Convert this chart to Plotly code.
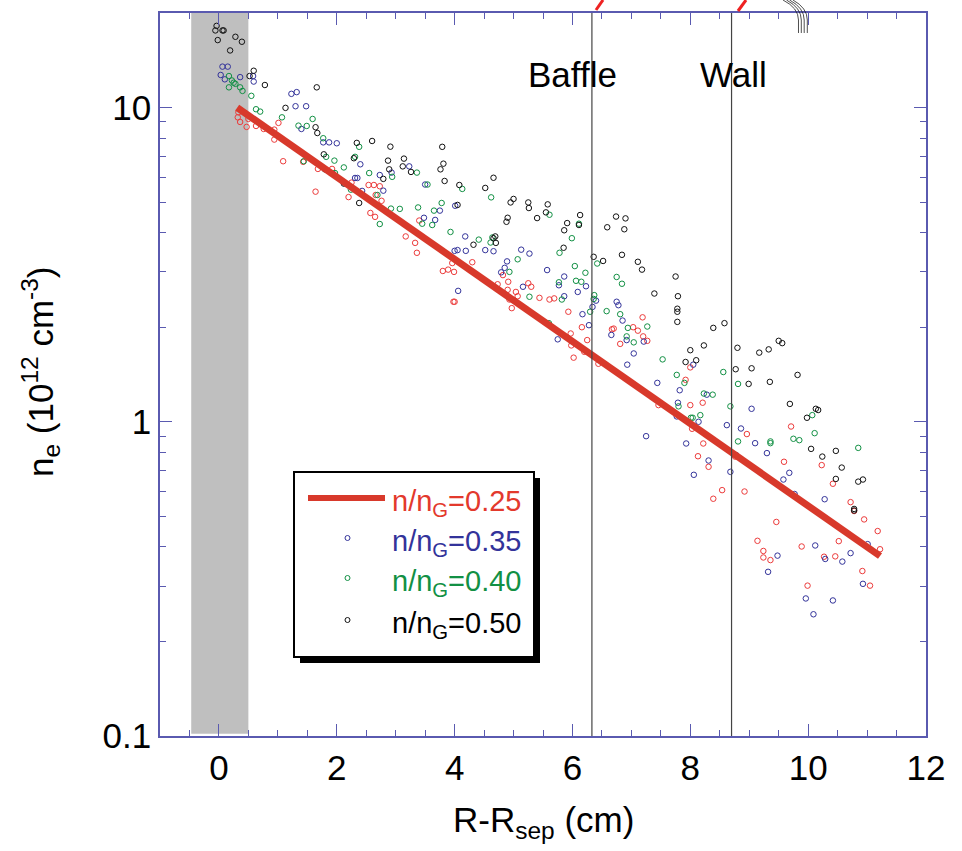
import plotly.graph_objects as go

# ---------------- data ----------------
red_x = [0.33, 0.32, 0.36, 0.47, 0.50, 0.63, 0.76, 0.94, 0.94, 1.01, 1.09, 1.43,
         1.68, 1.92, 1.64, 2.25, 2.20, 2.54, 2.63, 2.73, 2.66, 2.76, 2.57, 2.65, 3.17, 3.33, 3.36, 3.40,
         4.30, 3.96, 3.80, 3.89, 3.99, 3.98, 4.00, 4.73, 4.82, 4.91, 4.90, 5.04, 4.93, 5.07, 4.97, 5.25,
         5.30, 5.44, 5.61, 5.69,
         5.93, 6.16, 5.97, 6.25, 5.98, 6.20, 6.02, 6.44, 6.70, 6.67, 6.81, 7.03, 7.11, 7.19, 7.20, 7.27, 7.46,
         8.00, 7.92, 8.00, 8.21, 8.03, 8.22, 8.13, 8.31, 8.96, 8.76, 8.54, 8.39, 8.92, 9.71, 9.59, 9.46,
         9.14, 9.24, 9.24, 9.36,
         10.23, 10.42, 10.72, 10.95, 11.18, 11.22, 10.52, 9.89, 10.27, 10.46, 10.92, 11.05, 9.99, 10.78]
red_y = [9.66, 9.31, 9.0, 8.68, 9.2, 8.74, 8.55, 8.51, 7.91, 8.94, 6.75, 6.72,
         6.38, 6.38, 5.40, 5.77, 5.19, 5.67, 5.67, 5.62, 5.27, 5.05, 4.62, 4.49, 3.89, 3.71, 3.45, 4.37,
         3.22, 3.20, 3.02, 3.05, 3.00, 2.41, 2.41, 2.74, 2.93, 2.79, 2.63, 2.59, 2.45, 2.51, 2.30, 2.76,
         2.69, 2.48, 2.45, 2.47,
         2.24, 2.00, 1.91, 1.82, 1.75, 1.67, 1.60, 1.53, 1.98, 1.97, 1.77, 2.00, 1.95, 2.15, 1.87, 1.81, 1.13,
         1.49, 1.36, 1.13, 1.15, 0.95, 0.853, 0.777, 0.719, 0.914, 0.775, 0.606, 0.569, 0.600, 0.966, 0.746, 0.48,
         0.418, 0.388, 0.370, 0.363,
         0.728, 0.635, 0.555, 0.489, 0.449, 0.393, 0.417, 0.401, 0.372, 0.373, 0.335, 0.301, 0.301, 0.520]

blue_x = [0.06, 0.15, 0.03, 0.10, 0.36, 0.58, 0.59, 1.23, 1.32, 1.30, 1.48, 1.40,
          1.77, 1.87, 2.00, 2.40, 1.94, 2.31, 2.35, 2.43, 2.73, 2.79, 2.93, 3.23, 3.50, 3.48,
          4.01, 3.75, 3.67, 4.18, 4.00, 4.05, 4.19, 4.52, 4.66, 5.13, 5.27, 4.89, 4.85, 4.79, 5.57, 5.77,
          5.16, 4.06, 5.75,
          5.86, 6.23, 6.09, 5.86, 6.17, 6.28, 6.40, 6.34, 6.75, 6.78, 6.85, 6.66, 6.92, 7.21, 7.04, 6.93,
          7.44, 7.82, 7.25, 7.79, 7.77,
          8.05, 8.28, 8.14, 7.93, 8.62, 8.86, 9.04, 9.10, 8.31, 8.06, 8.68, 8.78, 9.30, 9.68, 9.58, 9.77,
          9.48, 9.32,
          10.28, 10.12, 10.29, 10.58, 10.72, 11.01, 10.93, 9.96, 10.42, 10.09]
blue_y = [13.5, 13.5, 12.7, 12.3, 12.5, 12.6, 12.1, 11.06, 11.2, 10.1, 10.1, 8.55,
          7.75, 7.75, 7.70, 6.60, 6.15, 5.97, 5.97, 5.43, 6.10, 5.44, 6.21, 6.50, 5.69, 4.46,
          4.87, 4.70, 4.39, 3.89, 3.50, 3.52, 3.50, 3.52, 3.49, 3.53, 3.43, 3.24, 3.09, 2.99, 3.04, 2.72,
          2.69, 2.61, 1.83,
          2.90, 2.70, 2.59, 2.51, 2.20, 2.03, 2.43, 2.32, 2.41, 2.35, 2.10, 1.89, 1.82, 1.80, 1.65, 1.52,
          1.33, 1.26, 0.90, 1.15, 1.04,
          1.52, 1.22, 1.00, 0.853, 0.976, 0.952, 1.10, 0.855, 0.753, 0.678, 0.693, 0.783, 0.795, 0.688, 0.655, 0.589,
          0.375, 0.333,
          0.567, 0.404, 0.366, 0.359, 0.382, 0.408, 0.305, 0.274, 0.270, 0.244]

green_x = [0.17, 0.22, 0.25, 0.28, 0.17, 0.36, 0.40, 0.55, 0.63, 0.70, 1.07, 1.35, 1.49, 1.44,
           1.59, 1.77, 1.82, 1.96, 2.12, 1.97, 2.31, 2.38, 2.55, 2.24, 2.69, 2.94, 2.92, 3.07, 3.38, 3.45,
           2.73, 3.36, 3.54,
           4.13, 4.62, 3.78, 3.65, 3.62, 3.93, 4.41, 4.61, 4.64, 5.07, 4.93, 5.27, 5.60, 5.61, 5.78, 5.77,
           5.99, 6.11, 6.04, 6.22, 6.06, 6.15, 5.82, 6.37, 6.36, 6.42, 6.75, 6.84, 6.58, 6.81, 6.30, 6.94,
           6.92, 7.04, 7.27, 7.53, 7.77, 7.80,
           8.56, 7.90, 8.23, 8.38, 8.68, 8.81, 8.01, 8.04, 8.17, 8.81, 9.36, 9.36, 9.75, 9.85,
           10.07, 10.11, 10.85]
green_y = [12.6, 12.2, 12.0, 11.9, 11.6, 11.6, 11.3, 10.9, 9.88, 9.71, 9.31, 8.76, 8.74, 6.75,
           9.2, 7.99, 6.97, 6.78, 6.45, 6.19, 6.97, 7.50, 6.19, 5.48, 5.27, 6.02, 4.77, 4.76, 4.81, 4.27,
           4.26, 6.21, 5.69,
           5.51, 5.18, 4.97, 4.70, 4.23, 4.02, 3.80, 3.72, 3.86, 3.29, 3.00, 2.50, 2.06, 4.56, 3.45, 2.78,
           3.84, 4.27, 3.13, 2.98, 2.81, 2.79, 2.45, 2.53, 2.46, 3.19, 2.89, 2.75, 2.25, 2.20, 2.24, 1.99,
           1.87, 1.79, 2.01, 1.58, 1.41, 1.12,
           1.44, 1.33, 1.23, 1.22, 1.12, 1.32, 1.03, 1.03, 1.05, 0.866, 0.866, 0.855, 0.883, 0.874,
           1.05, 0.920, 0.826]

black_x = [-0.04, -0.06, 0.06, 0.08, 0.28, 0.39, -0.02, 0.19, 0.59, 0.52, 0.78, 1.13,
           1.66, 1.64, 1.67, 1.78, 1.80, 2.29, 2.34, 2.60, 2.91, 2.87, 3.14, 3.12, 2.89, 2.79, 3.26, 2.12, 2.38,
           3.79, 3.81, 3.76, 3.83, 4.08, 4.05, 4.66, 4.52, 4.95, 5.00, 5.25, 5.26, 5.58, 5.55, 5.40, 4.90,
           4.88, 4.69, 4.66, 4.70, 4.32,
           6.13, 5.91, 5.86, 6.11, 5.85, 6.36, 6.52, 6.74, 6.90, 6.59, 6.88, 6.84, 7.11, 7.18, 7.75, 7.39,
           7.79, 7.78, 7.78, 7.78,
           8.39, 8.58, 8.00, 8.23, 7.92, 8.10, 8.80, 8.77, 9.04, 8.99, 9.17, 9.33, 9.50, 9.56, 9.35, 9.82, 9.69,
           10.13, 10.17, 9.98, 10.05, 10.24, 10.47, 10.57, 10.47, 10.85, 10.93, 10.78, 10.78]
black_y = [18.2, 17.6, 17.6, 17.6, 16.8, 16.2, 16.4, 15.2, 13.1, 12.6, 11.8, 9.98,
           11.6, 8.66, 8.30, 7.10, 6.36, 6.90, 7.72, 7.83, 7.51, 6.78, 6.88, 6.50, 6.36, 5.93, 6.24, 5.73, 4.97,
           7.50, 6.63, 6.36, 5.84, 5.67, 4.90, 5.98, 5.55, 4.99, 5.12, 4.99, 4.79, 4.92, 4.64, 4.45, 4.46,
           4.33, 3.89, 3.84, 3.71, 3.66,
           4.55, 4.29, 4.07, 4.23, 3.58, 3.35, 3.25, 4.50, 4.44, 4.16, 4.10, 3.40, 3.23, 3.05, 2.90, 2.56,
           2.51, 2.29, 2.24, 2.08,
           1.99, 2.06, 1.69, 1.75, 1.55, 1.57, 1.72, 1.47, 1.48, 1.32, 1.66, 1.70, 1.81, 1.78, 1.34, 1.41, 1.14,
           1.10, 1.09, 1.03, 0.820, 0.775, 0.808, 0.715, 0.658, 0.645, 0.655, 0.528, 0.522]

fit_x = [0.31, 2.0, 4.0, 6.0, 8.0, 10.0, 11.22]
fit_y = [10.0, 6.0, 3.29, 1.80, 0.99, 0.542, 0.374]

band_x = [-0.47, 0.5]
baffle_x = 6.33
wall_x = 8.70

legend_labels = ["n/n<sub>G</sub>=0.25", "n/n<sub>G</sub>=0.35",
                 "n/n<sub>G</sub>=0.40", "n/n<sub>G</sub>=0.50"]

# ---------------- style ----------------
C_FIT = "#d8392b"
C_RED = "#ec3b3b"
C_BLUE = "#33339a"
C_GREEN = "#129044"
C_BLACK = "#111111"
AXC = "#5a5ab0"
FONT = "Liberation Sans, Arial, Helvetica, sans-serif"

fig = go.Figure()

def pts(x, y, c, name):
    fig.add_trace(go.Scatter(x=x, y=y, mode="markers", name=name, showlegend=False,
                             marker=dict(symbol="circle-open", size=5.5, color=c,
                                         line=dict(width=1, color=c))))

pts(red_x, red_y, C_RED, "0.25")
pts(blue_x, blue_y, C_BLUE, "0.35")
pts(green_x, green_y, C_GREEN, "0.40")
pts(black_x, black_y, C_BLACK, "0.50")
fig.add_trace(go.Scatter(x=fit_x, y=fit_y, mode="lines", showlegend=False,
                         line=dict(color=C_FIT, width=7)))

L, R, T, B = 160, 36, 13, 115
W, H = 962, 851
PW, PH = W - L - R, H - T - B

def px(xp):
    return (xp - L) / PW

def py(yp):
    return (T + PH - yp) / PH

shapes = []
# grey band
shapes.append(dict(type="rect", xref="x", yref="paper", x0=band_x[0], x1=band_x[1],
                   y0=0.003, y1=1, fillcolor="#bfbfbf", line=dict(width=0), layer="below"))
# baffle / wall lines
for xv in (baffle_x, wall_x):
    shapes.append(dict(type="line", xref="x", yref="paper", x0=xv, x1=xv, y0=0, y1=1,
                       line=dict(color="#444444", width=1.2)))
# top artefacts (cropped figure above)
shapes.append(dict(type="line", xref="paper", yref="paper", x0=px(603), y0=py(0), x1=px(596), y1=py(10),
                   line=dict(color="#ee2222", width=3)))
shapes.append(dict(type="line", xref="paper", yref="paper", x0=px(746), y0=py(0), x1=px(738), y1=py(11),
                   line=dict(color="#ee2222", width=3)))
for x0, x1 in [(783, 798.5), (786.5, 801.3), (789.6, 804.2), (793, 807.3)]:
    path = "M {:.5f},{:.5f} Q {:.5f},{:.5f} {:.5f},{:.5f} L {:.5f},{:.5f}".format(
        px(x0), py(0), px(x1), py(8), px(x1), py(20), px(x1), py(33))
    shapes.append(dict(type="path", xref="paper", yref="paper", path=path,
                       line=dict(color="#222222", width=0.8)))

# legend (drawn manually)
shapes.append(dict(type="rect", xref="paper", yref="paper", x0=px(300), x1=px(540),
                   y0=py(663), y1=py(478), fillcolor="black", line=dict(width=0)))
shapes.append(dict(type="rect", xref="paper", yref="paper", x0=px(294), x1=px(534),
                   y0=py(657), y1=py(472), fillcolor="white", line=dict(color="black", width=2)))
shapes.append(dict(type="line", xref="paper", yref="paper", x0=px(308), x1=px(385),
                   y0=py(498), y1=py(498), line=dict(color=C_FIT, width=6)))
leg_cols = [C_FIT, C_BLUE, C_GREEN, C_BLACK]
leg_y = [498, 538, 578, 620]
for i in (1, 2, 3):
    shapes.append(dict(type="circle", xref="paper", yref="paper",
                       x0=px(345), x1=px(350), y0=py(leg_y[i] + 2.5), y1=py(leg_y[i] - 2.5),
                       line=dict(color=leg_cols[i], width=1)))

annotations = []
for i, lab in enumerate(legend_labels):
    annotations.append(dict(xref="paper", yref="paper", x=px(390), y=py(leg_y[i] + 5),
                            xanchor="left", yanchor="middle", showarrow=False, text=lab,
                            font=dict(family=FONT, size=29, color=["#e3392c", C_BLUE, C_GREEN, "#000000"][i])))

annotations.append(dict(xref="paper", yref="paper", x=px(572), y=py(74), text="Baffle",
                        showarrow=False, xanchor="center", yanchor="middle",
                        font=dict(family=FONT, size=35, color="black")))
annotations.append(dict(xref="paper", yref="paper", x=px(733), y=py(74), text="Wall",
                        showarrow=False, xanchor="center", yanchor="middle",
                        font=dict(family=FONT, size=35, color="black")))
# axis titles
annotations.append(dict(xref="paper", yref="paper", x=px(543), y=py(822), text="R-R<sub>sep</sub> (cm)",
                        showarrow=False, xanchor="center", yanchor="middle",
                        font=dict(family=FONT, size=35, color="black")))
annotations.append(dict(xref="paper", yref="paper", x=px(40), y=py(372),
                        text="n<sub>e</sub> (10<sup>12</sup> cm<sup>-3</sup>)", textangle=-90,
                        showarrow=False, xanchor="center", yanchor="middle",
                        font=dict(family=FONT, size=35, color="black")))

minor_y = [0.2, 0.3, 0.4, 0.5, 0.6, 0.7, 0.8, 0.9, 2, 3, 4, 5, 6, 7, 8, 9, 20]

fig.update_layout(
    width=W, height=H, margin=dict(l=L, r=R, t=T, b=B),
    paper_bgcolor="white", plot_bgcolor="white",
    font=dict(family=FONT, size=35, color="black"),
    shapes=shapes, annotations=annotations, showlegend=False,
    xaxis=dict(range=[-1, 12], tick0=0, dtick=2, ticks="inside", ticklen=12, tickwidth=1,
               tickcolor=AXC, showline=True, linecolor=AXC, linewidth=1.5, mirror="allticks",
               showgrid=False, zeroline=False, tickfont=dict(size=35, family=FONT),
               minor=dict(dtick=0.5, ticks="inside", ticklen=6, tickwidth=1, tickcolor=AXC,
                          showgrid=False)),
    yaxis=dict(type="log", range=[-1, 1.30103], tickmode="array", tickvals=[0.1, 1, 10],
               ticktext=["0.1", "1", "10"], ticks="inside", ticklen=12, tickwidth=1,
               tickcolor=AXC, showline=True, linecolor=AXC, linewidth=1.5, mirror="allticks",
               showgrid=False, zeroline=False, tickfont=dict(size=35, family=FONT),
               minor=dict(tickmode="array", tickvals=minor_y, ticks="inside", ticklen=6,
                          tickwidth=1, tickcolor=AXC, showgrid=False)),
)

fig.write_html("out.html")
